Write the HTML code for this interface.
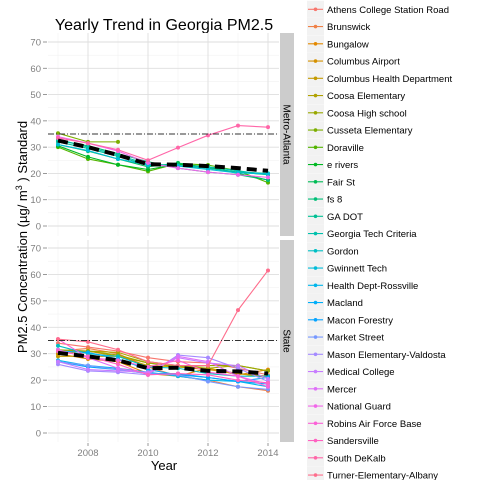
<!DOCTYPE html>
<html><head><meta charset="utf-8">
<style>
html,body{margin:0;padding:0;background:#fff;}
svg{display:block;font-family:"Liberation Sans",sans-serif;}
</style></head>
<body>
<svg id="chart" width="480" height="480" viewBox="0 0 480 480" xmlns="http://www.w3.org/2000/svg"></svg>
<script>
const years = [2007,2008,2009,2010,2011,2012,2013,2014];
const yTicks = [0,10,20,30,40,50,60,70];
const xTicks = [2008,2010,2012,2014];
const standardValue = 35;
const siteNames = ["Athens College Station Road","Brunswick","Bungalow","Columbus Airport","Columbus Health Department","Coosa Elementary","Coosa High school","Cusseta Elementary","Doraville","e rivers","Fair St","fs 8","GA DOT","Georgia Tech Criteria","Gordon","Gwinnett Tech","Health Dept-Rossville","Macland","Macon Forestry","Market Street","Mason Elementary-Valdosta","Medical College","Mercer","National Guard","Robins Air Force Base","Sandersville","South DeKalb","Turner-Elementary-Albany"];
const panels = ["Metro-Atlanta","State"];
const metroMean = [32.5,30,27,23.5,23.3,22.8,22,21];
const stateMean = [30.3,29,27.5,24.5,24.7,23.5,23.3,22.5];
// metro-atlanta series
const metroSites = ["Cusseta Elementary","Doraville","e rivers","Fair St","fs 8","GA DOT","Georgia Tech Criteria","Gwinnett Tech","National Guard","South DeKalb"];
const metroValues = [
 [35.3,32,32,null,null,null,null,null],
 [30,25.5,23.3,20.8,23.8,23.2,21,16.5],
 [30.5,26.3,23.3,21.5,23.5,22.5,20,17.5],
 [31,28.5,25.5,22.5,24,22,20.5,19.5],
 [32.5,30.5,27.5,24.5,22,20.5,19.5,17.5],
 [32,29.5,26.5,23,23,22,20.5,20],
 [33,30,27,23.5,23,22.5,21,19.5],
 [31,28.7,25.5,23.2,22.8,21.5,20.2,19.8],
 [34,31.5,28.5,24,22,20.5,19.5,18.5],
 [33.5,31.5,29,25,29.8,34.5,38.2,37.6]
];
// state series
const stateSites = ["Athens College Station Road","Brunswick","Bungalow","Columbus Airport","Columbus Health Department","Coosa Elementary","Coosa High school","Gordon","Health Dept-Rossville","Macland","Macon Forestry","Market Street","Mason Elementary-Valdosta","Medical College","Mercer","Robins Air Force Base","Sandersville","Turner-Elementary-Albany"];
const stateValues = [
 [34,32.5,31,28.5,27,26.5,24.5,22],
 [31,32,30,25,21.5,20,17.5,16],
 [30,28,27,22.5,21.5,24.5,22,24],
 [30,31,29,26.5,25,24,22.5,21],
 [29,29,29,25.5,25,24.5,22.5,21.5],
 [31,31,30.5,27,25.5,24.5,25.5,23.5],
 [31.5,31,29.5,26.5,25,25.5,25.5,23.5],
 [33,30,29,25,24.5,22.5,21.5,21.5],
 [27.5,25.5,24.5,23,21.5,20,19.5,17.5],
 [31,30.5,28,24,22,21,19.5,18.5],
 [27,25,24,22.5,22.5,21,19.5,21],
 [27,25.5,24,22.5,22,19.5,17.5,16.5],
 [26,23.5,23,22,29.5,28.5,24.5,19.5],
 [27,24,23.5,23,28.5,26.5,25.5,20.5],
 [31.5,28.5,24.5,22.5,29,27,21.5,18.5],
 [35.5,28.5,27.5,25,27.5,23,21.5,17.5],
 [31,29,26,22,22.5,22,20,19],
 [35.5,34.5,31.5,27,25.5,25.5,46.5,61.5]
];

const NS="http://www.w3.org/2000/svg";
const svg=document.getElementById('chart');
function mk(tag,attrs,parent){const e=document.createElementNS(NS,tag);for(const k in attrs)e.setAttribute(k,attrs[k]);(parent||svg).appendChild(e);return e;}
function hcl(h,c,l){ // CIE LCh -> sRGB
  const hr=h*Math.PI/180;const L=l,U=c*Math.cos(hr),V=c*Math.sin(hr);
  const Xn=95.047,Yn=100,Zn=108.883;const un=4*Xn/(Xn+15*Yn+3*Zn),vn=9*Yn/(Xn+15*Yn+3*Zn);
  const Y=L>8?Yn*Math.pow((L+16)/116,3):Yn*L/903.3;const u=U/(13*L)+un,v=V/(13*L)+vn;
  const X=9*Y*u/(4*v),Z=-X/3-5*Y+3*Y/v;
  const x=X/100,y=Y/100,z=Z/100;
  let r=3.2406*x-1.5372*y-0.4986*z,g=-0.9689*x+1.8758*y+0.0415*z,b=0.0557*x-0.2040*y+1.0570*z;
  const f=t=>{t=t<=0.0031308?12.92*t:1.055*Math.pow(t,1/2.4)-0.055;return Math.round(Math.max(0,Math.min(1,t))*255);};
  return `rgb(${f(r)},${f(g)},${f(b)})`;
}
const colors=siteNames.map((n,i)=>hcl(15+360*i/siteNames.length,100,65));
const colorOf=n=>colors[siteNames.indexOf(n)];

const X0=48,X1=279;
const xScale=yr=>58+(yr-2007)*30;
const panelGeom=[{top:33,bottom:236,y70:42,y0:226},{top:240,bottom:442,y70:248,y0:433}];

// title
const t=mk('text',{x:164,y:30,'font-size':16,'text-anchor':'middle',fill:'#000'});t.textContent='Yearly Trend in Georgia PM2.5';


const yt=mk('text',{transform:'translate(27,237) rotate(-90)','font-size':13,'text-anchor':'middle',fill:'#000'});
yt.innerHTML='PM2.5 Concentration (µg/ m<tspan dy="-5" font-size="9">3</tspan><tspan dy="5"> ) Standard</tspan>';


const xt=mk('text',{x:164,y:470,'font-size':13,'text-anchor':'middle',fill:'#000'});xt.textContent='Year';


function drawPanel(pi,sites,vals,mean){
  const g=panelGeom[pi];
  const ys=v=>g.y0+(g.y70-g.y0)*v/70;
  const grp=mk('g',{});
  
  
  mk('rect',{x:X0,y:g.top,width:X1-X0,height:g.bottom-g.top,fill:'#fff'},grp);
  // minor grid
  for(let i=0;i<yTicks.length-1;i++){const yy=ys((yTicks[i]+yTicks[i+1])/2);mk('line',{x1:X0,x2:X1,y1:yy,y2:yy,stroke:'#f2f2f2','stroke-width':0.6},grp);}
  for(let i=0;i<xTicks.length-1;i++){const xx=xScale((xTicks[i]+xTicks[i+1])/2);mk('line',{x1:xx,x2:xx,y1:g.top,y2:g.bottom,stroke:'#f2f2f2','stroke-width':0.6},grp);}
  {const xx=xScale(2007);mk('line',{x1:xx,x2:xx,y1:g.top,y2:g.bottom,stroke:'#f2f2f2','stroke-width':0.6},grp);}
  yTicks.forEach(v=>{const yy=ys(v);mk('line',{x1:X0,x2:X1,y1:yy,y2:yy,stroke:'#dedede','stroke-width':0.9},grp);
    mk('line',{x1:43,x2:47,y1:yy,y2:yy,stroke:'#7f7f7f','stroke-width':0.8});
    const tl=mk('text',{x:41,y:yy+3.5,'font-size':9.5,'text-anchor':'end',fill:'#7f7f7f'});tl.textContent=v;
    });
  xTicks.forEach(v=>{const xx=xScale(v);mk('line',{x1:xx,x2:xx,y1:g.top,y2:g.bottom,stroke:'#dedede','stroke-width':0.9},grp);});
  // series
  sites.forEach((s,si)=>{
    const c=colorOf(s);const pts=[];
    vals[si].forEach((v,j)=>{if(v!==null)pts.push([xScale(years[j]),ys(v)]);});
    const pl=mk('polyline',{points:pts.map(p=>p.join(',')).join(' '),fill:'none',stroke:c,'stroke-width':1.1},grp);
    
    pts.forEach(p=>{const ci=mk('circle',{cx:p[0],cy:p[1],r:2,fill:c},grp);
      });
  });
  // standard line
  const sy=ys(standardValue);
  const sl=mk('line',{x1:X0,x2:X1,y1:sy,y2:sy,stroke:'#333','stroke-width':1,'stroke-dasharray':'6,2,1,2'},grp);
  
  // mean
  const mp=mean.map((v,j)=>xScale(years[j])+','+ys(v)).join(' ');
  const ml=mk('polyline',{points:mp,fill:'none',stroke:'#000','stroke-width':4,'stroke-dasharray':'10,6'},grp);
  
  // strip
  const st=mk('rect',{x:280,y:g.top,width:14,height:g.bottom-g.top,fill:'#cccccc'});
  
  const cy=(g.top+g.bottom)/2;
  const sx=mk('text',{transform:`translate(283.5,${cy}) rotate(90)`,'font-size':10,'text-anchor':'middle',fill:'#000'});sx.textContent=panels[pi];
  
}
drawPanel(0,metroSites,metroValues,metroMean);
drawPanel(1,stateSites,stateValues,stateMean);

xTicks.forEach(v=>{const xx=xScale(v);mk('line',{x1:xx,x2:xx,y1:443,y2:446,stroke:'#7f7f7f','stroke-width':0.8});
  const tl=mk('text',{x:xx,y:456,'font-size':9.5,'text-anchor':'middle',fill:'#7f7f7f'});tl.textContent=v;
  });

// legend
const lg=mk('g',{});

siteNames.forEach((n,i)=>{
  const y=9.3+i*17.25;
  const e=mk('g',{},lg);
  
  mk('rect',{x:307,y:y-8.5,width:17,height:17,fill:'#f2f2f2'},e);
  mk('line',{x1:308,x2:323,y1:y,y2:y,stroke:colors[i],'stroke-width':1.1},e);
  mk('circle',{cx:315.5,cy:y,r:1.8,fill:colors[i]},e);
  const tx=mk('text',{x:327,y:y+3.5,'font-size':9.5,fill:'#000'},e);tx.textContent=n;
});
</script>
</body></html>
